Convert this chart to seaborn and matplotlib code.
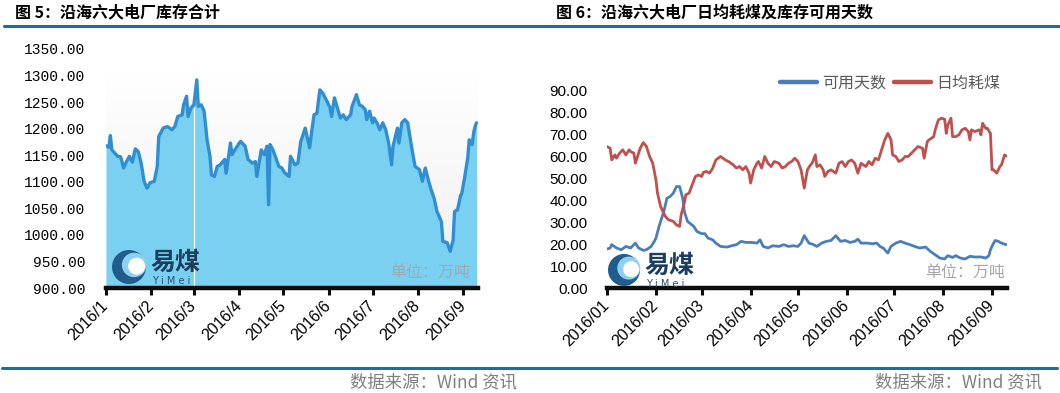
import numpy as np
import pandas as pd
import matplotlib
matplotlib.use("Agg")
import matplotlib.pyplot as plt
import matplotlib.dates as mdates
from matplotlib.ticker import FuncFormatter, FixedLocator
from matplotlib.patches import Circle
from matplotlib.lines import Line2D
from matplotlib.colors import LinearSegmentedColormap
import seaborn as sns

# ---------------- data ----------------
# left: coastal six power plants total stock (10k tons), day offset from 2016-01-01
stock_day = [0, 2, 3, 4, 6, 8, 10, 12, 14, 16, 18, 20, 22, 24, 26, 28, 30, 33, 35, 36,
             39, 42, 45, 47, 49, 52, 53, 55, 56, 58, 60, 62, 63, 65, 67, 69, 71, 72, 74, 76,
             78, 81, 82, 85, 86, 88, 91, 92, 95, 97, 100, 102, 103, 106, 108, 110, 111, 112, 114, 116,
             118, 120, 122, 125, 126, 129, 131, 133, 136, 139, 140, 142, 144, 146, 148, 151, 153, 154, 156, 158,
             160, 162, 164, 167, 168, 171, 173, 175, 177, 178, 180, 182, 183, 185, 187, 189, 191, 193, 195, 196,
             199, 200, 202, 204, 206, 209, 211, 214, 216, 218, 220, 222, 224, 226, 229, 230, 233, 235, 237, 238,
             240, 242, 243, 245, 247, 248, 250, 251, 252, 253]
stock_val = [1168, 1165, 1187, 1160, 1154, 1148, 1147, 1126, 1138, 1148, 1137, 1162, 1157, 1135, 1101, 1088, 1098, 1101, 1129, 1185,
             1201, 1204, 1198, 1204, 1223, 1226, 1245, 1261, 1223, 1239, 1245, 1292, 1242, 1245, 1233, 1179, 1148, 1113, 1110, 1129,
             1132, 1142, 1116, 1173, 1151, 1160, 1173, 1176, 1167, 1142, 1135, 1138, 1110, 1160, 1151, 1167, 1057, 1170, 1160, 1145,
             1129, 1126, 1117, 1110, 1148, 1132, 1135, 1176, 1201, 1164, 1185, 1226, 1229, 1273, 1267, 1251, 1239, 1223, 1258, 1239,
             1220, 1226, 1217, 1226, 1242, 1264, 1245, 1242, 1236, 1217, 1233, 1211, 1220, 1211, 1198, 1211, 1198, 1173, 1132, 1167,
             1201, 1173, 1211, 1217, 1211, 1160, 1129, 1123, 1101, 1126, 1104, 1085, 1069, 1044, 1025, 988, 985, 969, 990, 1044,
             1047, 1073, 1079, 1110, 1145, 1179, 1170, 1192, 1204, 1211]

# right: daily coal consumption (日均耗煤)
burn_day = [0, 2, 3, 5, 6, 8, 10, 12, 14, 15, 17, 18, 20, 21, 23, 25, 27, 29, 31, 32,
            34, 37, 39, 42, 44, 46, 47, 49, 50, 52, 54, 56, 58, 60, 61, 63, 65, 67, 69, 72,
            75, 77, 80, 82, 84, 86, 88, 90, 91, 93, 95, 96, 98, 100, 102, 104, 106, 109, 111, 113,
            115, 117, 119, 121, 123, 125, 127, 129, 130, 132, 133, 135, 137, 138, 140, 142, 145, 147, 149, 151,
            153, 155, 157, 159, 161, 164, 166, 168, 170, 172, 174, 176, 178, 180, 181, 183, 185, 187, 189, 191,
            193, 195, 197, 200, 201, 203, 204, 207, 208, 210, 212, 214, 215, 216, 218, 219, 221, 223, 225, 227,
            229, 230, 231, 233, 236, 237, 238, 240, 241, 243, 244, 245, 247, 249, 250, 252, 253]
burn_val = [64.3, 63.5, 58.2, 60.5, 59.0, 61.3, 62.8, 60.5, 62.8, 62.0, 61.3, 56.7, 61.3, 63.5, 66.1, 64.3, 59.8, 56.7, 49.2, 43.1,
            37.0, 32.5, 31.0, 30.3, 28.7, 28.0, 33.3, 38.6, 42.4, 43.1, 46.9, 50.7, 51.4, 50.7, 52.5, 53.0, 52.2, 54.5, 58.2, 59.8,
            58.2, 57.5, 56.0, 54.5, 55.2, 53.7, 55.2, 52.2, 47.7, 53.7, 56.7, 57.5, 54.5, 59.8, 56.7, 55.2, 57.5, 56.7, 54.5, 55.2,
            56.7, 57.5, 59.0, 57.5, 53.7, 45.4, 53.7, 56.0, 56.7, 60.5, 55.2, 56.0, 53.7, 50.7, 53.0, 53.7, 52.2, 56.7, 57.5, 55.2,
            57.5, 58.2, 56.7, 52.2, 56.7, 55.2, 57.5, 56.0, 59.0, 58.2, 62.8, 67.3, 70.3, 67.3, 60.5, 59.8, 57.5, 58.2, 59.8, 59.8,
            61.3, 62.8, 64.3, 63.5, 59.0, 66.6, 67.3, 68.8, 71.9, 76.4, 77.2, 76.7, 70.3, 74.1, 77.2, 68.8, 68.8, 69.6, 71.9, 72.6,
            71.1, 67.3, 71.9, 71.1, 71.9, 69.6, 74.9, 72.6, 72.6, 70.3, 53.7, 53.7, 52.2, 55.2, 56.0, 60.5, 60.0]

# right: available days of stock (可用天数)
avail_day = [0, 2, 3, 6, 9, 12, 15, 18, 20, 23, 25, 28, 30, 31, 33, 36, 38, 40, 42, 44,
             46, 48, 49, 51, 55, 57, 60, 62, 64, 67, 69, 72, 76, 79, 82, 85, 88, 92, 95, 97,
             99, 102, 105, 109, 112, 115, 118, 121, 123, 125, 128, 131, 133, 136, 139, 142, 145, 148, 151, 154,
             157, 159, 161, 165, 168, 171, 173, 175, 178, 180, 183, 186, 189, 192, 195, 198, 202, 205, 208, 211,
             214, 216, 219, 221, 224, 227, 230, 233, 237, 240, 242, 243, 245, 246, 248, 250, 253]
avail_val = [17.7, 18.2, 19.7, 18.2, 17.4, 18.9, 18.2, 20.4, 18.2, 17.1, 17.4, 18.9, 21.2, 22.7, 28.0, 34.8, 40.8, 41.6, 43.1, 46.1,
             46.1, 40.8, 34.8, 30.3, 28.0, 25.7, 24.7, 24.7, 22.7, 21.9, 20.4, 18.9, 18.6, 19.2, 19.7, 21.2, 20.7, 20.7, 20.4, 21.9,
             18.9, 18.2, 19.2, 18.9, 19.7, 18.9, 19.2, 18.9, 20.4, 23.8, 20.4, 19.7, 18.9, 20.4, 21.2, 21.6, 23.8, 21.2, 21.6, 20.7,
             21.2, 22.2, 20.4, 20.4, 20.1, 20.4, 18.9, 18.2, 15.9, 18.9, 20.4, 21.2, 20.4, 19.7, 18.9, 18.2, 18.6, 16.6, 15.1, 13.6,
             13.2, 14.7, 13.9, 14.7, 13.6, 13.2, 14.4, 14.1, 14.1, 13.6, 14.7, 17.4, 20.4, 21.6, 21.2, 20.4, 19.7]

left_yticks = [900, 950, 1000, 1050, 1100, 1150, 1200, 1250, 1300, 1350]
right_yticks = [0, 10, 20, 30, 40, 50, 60, 70, 80, 90]
month_starts = ["2016-01-01", "2016-02-01", "2016-03-01", "2016-04-01", "2016-05-01",
                "2016-06-01", "2016-07-01", "2016-08-01", "2016-09-01"]
left_xlabels = ["2016/1", "2016/2", "2016/3", "2016/4", "2016/5", "2016/6", "2016/7", "2016/8", "2016/9"]
right_xlabels = ["2016/01", "2016/02", "2016/03", "2016/04", "2016/05", "2016/06", "2016/07", "2016/08", "2016/09"]
series_names = ["可用天数", "日均耗煤"]
title_left = "图 5：沿海六大电厂库存合计"
title_right = "图 6：沿海六大电厂日均耗煤及库存可用天数"
unit_text = "单位：万吨"
source_text = "数据来源：Wind 资讯"

# ---------------- style ----------------
sns.set_theme(style="white")
plt.rcParams["font.family"] = ["Noto Sans CJK SC", "DejaVu Sans"]

W, H = 1060, 393
fig = plt.figure(figsize=(W / 100, H / 100), dpi=100)
fig.patch.set_facecolor("white")

start = pd.Timestamp("2016-01-01")
to_dates = lambda d: start + pd.to_timedelta(np.asarray(d, dtype=float), unit="D")
month_dates = pd.to_datetime(month_starts)


def fx(px):
    return px / W


def fy(py):
    return 1 - py / H


ax1 = fig.add_axes([fx(106), fy(288), fx(478 - 106), (288 - 49) / H])
ax2 = fig.add_axes([fx(607), fy(288), fx(1007 - 607), (288 - 90) / H])

# ---------------- left chart ----------------
sdates = to_dates(stock_day)
grad = LinearSegmentedColormap.from_list("g", ["#ffffff", "#efefef"])
ax1.imshow(np.linspace(0, 1, 100).reshape(-1, 1), cmap=grad, aspect="auto",
           extent=[0, 1, 0, 0.91], transform=ax1.transAxes, zorder=0)
ax1.fill_between(sdates, stock_val, left_yticks[0], color="#7ad0f1", zorder=1, linewidth=0)
sns.lineplot(x=sdates, y=stock_val, ax=ax1, color="#2f8fd2", linewidth=2.4, zorder=3)
# thin white separator at the start of March (as in the original)
mar = mdates.date2num(month_dates[2])
mar_val = np.interp(mar, mdates.date2num(sdates), stock_val)
ax1.vlines(month_dates[2], left_yticks[0], mar_val - 4, color="white", linewidth=0.9, zorder=2)

ax1.set_ylim(left_yticks[0], left_yticks[-1])
ax1.set_xlim(start, start + pd.Timedelta(days=254))
ax1.set_yticks(left_yticks)
ax1.yaxis.set_major_formatter(FuncFormatter(lambda v, p: f"{v:.2f}"))
ax1.xaxis.set_major_locator(FixedLocator(mdates.date2num(month_dates)))
xlab_kw = dict(rotation=45, ha="right", va="center", rotation_mode="anchor",
               fontsize=11.5, family="Liberation Sans", color="black")
ax1.set_xticklabels(left_xlabels, **xlab_kw)

# ---------------- right chart ----------------
sns.lineplot(x=to_dates(avail_day), y=avail_val, ax=ax2, color="#4a7ebb",
             linewidth=2.0, label=series_names[0])
sns.lineplot(x=to_dates(burn_day), y=burn_val, ax=ax2, color="#c0504d",
             linewidth=2.0, label=series_names[1])
ax2.set_ylim(right_yticks[0], right_yticks[-1])
ax2.set_xlim(start, start + pd.Timedelta(days=253.5))
ax2.set_yticks(right_yticks)
ax2.yaxis.set_major_formatter(FuncFormatter(lambda v, p: f"{v:.2f}"))
ax2.xaxis.set_major_locator(FixedLocator(mdates.date2num(month_dates)))
ax2.set_xticklabels(right_xlabels, **xlab_kw)
leg = ax2.legend(loc="center right", bbox_to_anchor=(1.02, 1.035), ncol=2, frameon=False,
                 handlelength=2.3, handletextpad=0.35, columnspacing=0.5,
                 prop={"family": ["Noto Sans CJK SC"], "size": 11.5})
for t in leg.get_texts():
    t.set_color("#595959")
for l in leg.get_lines():
    l.set_linewidth(3.2)

# ---------------- common axis styling ----------------
for ax, yfam, ysize, ypad in [(ax1, "Liberation Mono", 10.5, 15), (ax2, "Liberation Sans", 11, 14)]:
    ax.set_facecolor("white")
    ax.grid(False)
    for s in ["left", "top", "right"]:
        ax.spines[s].set_visible(False)
    ax.spines["bottom"].set_linewidth(3.2)
    ax.spines["bottom"].set_color("#0d0d0d")
    ax.spines["bottom"].set_zorder(5)
    ax.tick_params(axis="x", bottom=True, direction="out", length=5, width=2.2,
                   color="#0d0d0d", pad=6)
    ax.tick_params(axis="y", left=False, length=0, pad=ypad)
    ax.set_xlabel("")
    ax.set_ylabel("")
    for lab in ax.get_yticklabels():
        lab.set_family(yfam)
        lab.set_fontsize(ysize)
        lab.set_color("black")

# ---------------- unit labels ----------------
fig.text(fx(470), fy(272), unit_text, ha="right", va="center", fontsize=11.5, color="#9aabb5")
fig.text(fx(1005), fy(272), unit_text, ha="right", va="center", fontsize=11.5, color="#a6a6a6")


# ---------------- logos ----------------
def draw_logo(cx, cy, r):
    tr = fig.dpi_scale_trans
    fig.add_artist(Circle((cx / 100, (H - cy) / 100), r / 100, transform=tr,
                          facecolor="#1e5d8c", edgecolor="none", zorder=10))
    fig.add_artist(Circle(((cx + r * 0.3) / 100, (H - cy + r * 0.12) / 100), r * 0.72 / 100,
                          transform=tr, facecolor="#8fd0ef", edgecolor="none", zorder=11))
    fig.add_artist(Circle(((cx + r * 0.45) / 100, (H - cy + r * 0.05) / 100), r * 0.5 / 100,
                          transform=tr, facecolor="white", edgecolor="none", zorder=12))
    fig.text(fx(cx + r + 4), fy(cy - 4), "易煤", ha="left", va="center", fontsize=18,
             fontweight="bold", color="#1b3d5e", zorder=13)
    fig.text(fx(cx + r + 6), fy(cy + 14), "Y i M e i", ha="left", va="center", fontsize=7,
             color="#2b4d6e", family=["DejaVu Sans"], zorder=13)


draw_logo(129, 267, 17)
draw_logo(624, 270, 16)

# ---------------- titles, rules, source ----------------
fig.text(fx(15), fy(12), title_left, ha="left", va="center", fontsize=11.5, fontweight="bold", color="black")
fig.text(fx(556), fy(12), title_right, ha="left", va="center", fontsize=11.5, fontweight="bold", color="black")
fig.add_artist(Line2D([fx(4), fx(1060)], [fy(25.5), fy(25.5)], color="#1f6e9a", linewidth=2.2))
fig.add_artist(Line2D([fx(2), fx(1057)], [fy(367.5), fy(367.5)], color="#1f6e9a", linewidth=2.2))
fig.text(fx(350), fy(382), source_text, ha="left", va="center", fontsize=12.5, color="#808080")
fig.text(fx(875), fy(382), source_text, ha="left", va="center", fontsize=12.5, color="#808080")

fig.savefig("out.png", dpi=100, facecolor="white")
